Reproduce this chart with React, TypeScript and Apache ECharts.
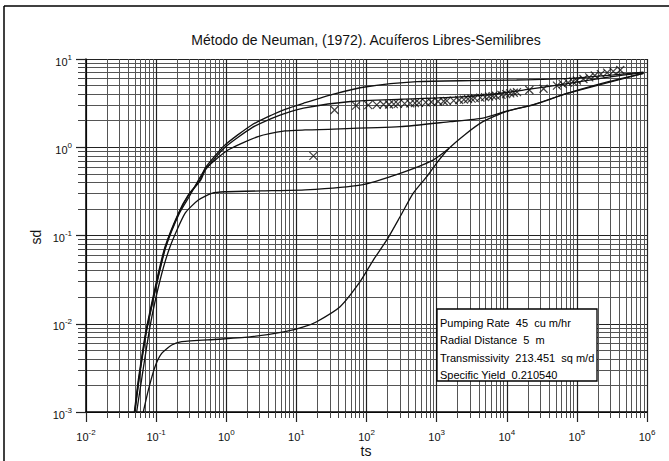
import React, { useEffect, useRef } from "react";
import * as echarts from "echarts";

// Type curves: [ts, sd]
const curveTop: [number, number][] = [
  [0.0489, 0.001], [0.0557, 0.00231], [0.0656, 0.0055], [0.0735, 0.00927], [0.102, 0.0313],
  [0.134, 0.0746], [0.207, 0.178], [0.288, 0.288], [0.423, 0.426], [0.5, 0.58], [0.96, 1.06],
  [2.31, 1.79], [4.46, 2.32], [6.9, 2.69], [12.6, 3.15], [33, 3.98], [100, 4.85], [525, 5.53],
  [3160, 5.69], [13800, 5.78], [79400, 6.03], [331000, 6.61], [891000, 7.08],
];
const curveSecond: [number, number][] = [
  [0.0495, 0.001], [0.0565, 0.00231], [0.0665, 0.0055], [0.0745, 0.00927], [0.104, 0.0313],
  [0.136, 0.0746], [0.21, 0.178], [0.292, 0.288], [0.43, 0.42], [0.51, 0.56], [0.96, 1.0],
  [2.31, 1.66], [4.46, 2.12], [6.9, 2.42], [12.6, 2.78], [59, 3.3], [316, 3.5], [1550, 3.67],
  [6300, 3.98], [20000, 4.52], [72400, 5.25], [316000, 6.3], [891000, 7.0],
];
const curveMiddle: [number, number][] = [
  [0.05, 0.001], [0.057, 0.00231], [0.067, 0.0055], [0.0752, 0.00927], [0.105, 0.0313],
  [0.138, 0.0746], [0.214, 0.178], [0.3, 0.28], [0.5, 0.56], [1.06, 0.93], [2.84, 1.32],
  [6.9, 1.53], [13.3, 1.57], [302, 1.71], [1550, 1.95], [4570, 2.14], [10000, 2.57],
  [24000, 3.05], [72400, 4.07], [891000, 6.89],
];
const curveLow: [number, number][] = [
  [0.0528, 0.001], [0.0818, 0.00927], [0.114, 0.0313], [0.158, 0.0746], [0.258, 0.178],
  [0.4, 0.252], [0.62, 0.3], [0.96, 0.313], [4.46, 0.322], [13.3, 0.328], [81, 0.372],
  [302, 0.507], [891, 0.716], [1480, 0.96],
];
const curveBottom: [number, number][] = [
  [0.0656, 0.001], [0.0774, 0.00177], [0.0964, 0.00326], [0.12, 0.00462], [0.167, 0.00574],
  [0.232, 0.00627], [0.771, 0.00667], [2.31, 0.00713], [6.9, 0.00813], [13.3, 0.00933],
  [19.5, 0.01054], [42, 0.0156], [81, 0.03], [125, 0.0527], [195, 0.089], [301, 0.163],
  [462, 0.3], [724, 0.465], [1000, 0.66], [1480, 0.96], [2500, 1.38], [4570, 1.95],
  [10000, 2.55], [24000, 3.02], [72400, 4.07], [300000, 5.6], [891000, 6.89],
];

// Observed drawdowns: [ts, sd]
const observed: [number, number][] = [
  [17.5, 0.8], [35, 2.64], [71, 2.96], [106, 3.0], [140, 3.02], [175, 3.05], [210, 3.05],
  [245, 3.08], [280, 3.1], [350, 3.12], [420, 3.14], [490, 3.16], [560, 3.18], [700, 3.22],
  [840, 3.26], [1050, 3.3], [1260, 3.32], [1400, 3.35], [1750, 3.38], [2100, 3.43],
  [2450, 3.47], [2800, 3.52], [3150, 3.56], [3500, 3.6], [4200, 3.65], [4900, 3.7],
  [5600, 3.76], [6300, 3.8], [7000, 3.85], [8400, 3.92], [9800, 4.0], [11200, 4.08],
  [12600, 4.15], [14000, 4.22], [21000, 4.45], [33500, 4.6], [52000, 5.0], [63000, 5.2],
  [75000, 5.4], [88000, 5.55], [100000, 5.7], [124000, 5.93], [150000, 6.2], [180000, 6.5],
  [220000, 6.75], [270000, 7.0], [330000, 7.25], [415000, 7.5],
];

const titleText = "Método de Neuman, (1972). Acuíferos Libres-Semilibres";
const xName = "ts";
const yName = "sd";
const infoLines = [
  "Pumping Rate  45  cu m/hr",
  "Radial Distance  5  m",
  "Transmissivity  213.451  sq m/d",
  "Specific Yield  0.210540",
];

const FONT = "Liberation Sans, Arial, sans-serif";

export default function App() {
  const ref = useRef<HTMLDivElement>(null);
  useEffect(() => {
    const chart = echarts.init(ref.current!, null, { renderer: "svg" });
    const fmt = (v: number) => `{b|10}{s|${Math.round(Math.log10(v))}}`;
    const rich = {
      b: { fontSize: 11, fontFamily: FONT, color: "#111", verticalAlign: "bottom", lineHeight: 16 },
      s: { fontSize: 8, fontFamily: FONT, color: "#111", verticalAlign: "bottom", lineHeight: 16, padding: [0, 0, 6, 0] },
    };
    const curveSeries = (data: [number, number][]) => ({
      type: "line",
      data,
      showSymbol: false,
      smooth: 0.2,
      silent: true,
      lineStyle: { color: "#111", width: 1.3 },
      z: 5,
    });
    const info = infoLines.map((t, i) => ({
      type: "text",
      x: 440,
      y: 322.7 + i * 17.5,
      style: { text: t, fontSize: 11, fontFamily: FONT, fill: "#000", textVerticalAlign: "middle" },
      z: 101,
    }));
    chart.setOption({
      animation: false,
      backgroundColor: "#fff",
      grid: { left: 86, right: 22, top: 59, bottom: 49 },
      xAxis: {
        type: "log",
        logBase: 10,
        min: 0.01,
        max: 1000000,
        splitNumber: 8,
        axisLine: { show: true, onZero: false, lineStyle: { color: "#000", width: 1.5 } },
        axisTick: { show: true, inside: false, length: 10, lineStyle: { color: "#222", width: 1.2 } },
        minorTick: { show: true, splitNumber: 9, length: 6, lineStyle: { color: "#444" } },
        splitLine: { show: true, lineStyle: { color: "#222", width: 1.2 } },
        minorSplitLine: { show: true, lineStyle: { color: "#555", width: 1 } },
        axisLabel: { formatter: fmt, rich, margin: 14 },
      },
      yAxis: {
        type: "log",
        logBase: 10,
        min: 0.001,
        max: 10,
        splitNumber: 4,
        axisLine: { show: true, onZero: false, lineStyle: { color: "#000", width: 1.5 } },
        axisTick: { show: true, inside: false, length: 10, lineStyle: { color: "#222", width: 1.2 } },
        minorTick: { show: true, splitNumber: 9, length: 8, lineStyle: { color: "#444" } },
        splitLine: { show: true, lineStyle: { color: "#222", width: 1.2 } },
        minorSplitLine: { show: true, lineStyle: { color: "#555", width: 1 } },
        axisLabel: { formatter: fmt, rich, margin: 14 },
      },
      series: [
        curveSeries(curveTop),
        curveSeries(curveSecond),
        curveSeries(curveMiddle),
        curveSeries(curveLow),
        curveSeries(curveBottom),
        {
          type: "scatter",
          data: observed,
          symbol: "path://M0 0L10 10M10 0L0 10",
          symbolSize: 8,
          silent: true,
          itemStyle: { color: "rgba(0,0,0,0)", borderColor: "#111", borderWidth: 1.2 },
          z: 6,
        },
      ],
      graphic: [
        { type: "line", shape: { x1: 4, y1: 6, x2: 669, y2: 6 }, style: { stroke: "#000", lineWidth: 1.5 } },
        { type: "line", shape: { x1: 4, y1: 6, x2: 4, y2: 461 }, style: { stroke: "#000", lineWidth: 1.5 } },
        {
          type: "text", x: 366, y: 40,
          style: { text: titleText, fontSize: 14, fontFamily: FONT, fill: "#111", textAlign: "center", textVerticalAlign: "middle" },
        },
        {
          type: "text", x: 366, y: 451,
          style: { text: xName, fontSize: 14, fontFamily: FONT, fill: "#111", textAlign: "center", textVerticalAlign: "middle" },
        },
        {
          type: "text", x: 36, y: 237, rotation: Math.PI / 2,
          style: { text: yName, fontSize: 14, fontFamily: FONT, fill: "#111", textAlign: "center", textVerticalAlign: "middle" },
        },
        {
          type: "rect", shape: { x: 437, y: 309, width: 160, height: 72 },
          style: { fill: "#fff", stroke: "#000", lineWidth: 1.3 }, z: 100,
        },
        ...info,
      ],
    });
    return () => chart.dispose();
  }, []);
  return <div ref={ref} style={{ position: "fixed", left: 0, top: 0, width: 669, height: 461 }} />;
}
